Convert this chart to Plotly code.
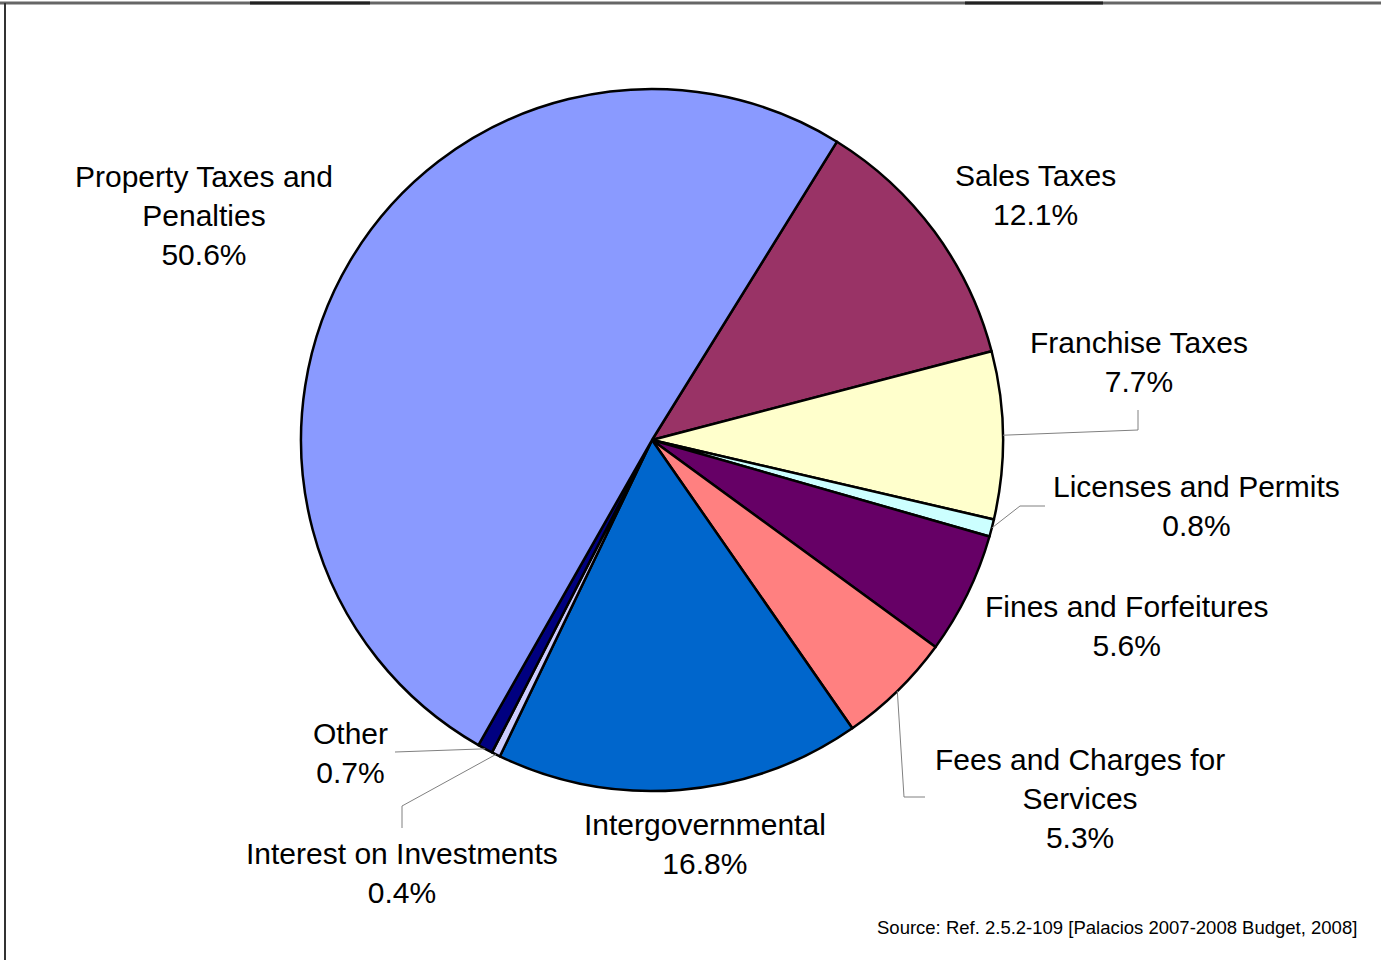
import math

import plotly.graph_objects as go

# Revenue categories, clockwise from the Sales Taxes slice
categories = [
    "Sales Taxes",
    "Franchise Taxes",
    "Licenses and Permits",
    "Fines and Forfeitures",
    "Fees and Charges for Services",
    "Intergovernmental",
    "Interest on Investments",
    "Other",
    "Property Taxes and Penalties",
]
shares = [12.1, 7.7, 0.8, 5.6, 5.3, 16.8, 0.4, 0.7, 50.6]
label_text = [
    "Sales Taxes<br>12.1%",
    "Franchise Taxes<br>7.7%",
    "Licenses and Permits<br>0.8%",
    "Fines and Forfeitures<br>5.6%",
    "Fees and Charges for<br>Services<br>5.3%",
    "Intergovernmental<br>16.8%",
    "Interest on Investments<br>0.4%",
    "Other<br>0.7%",
    "Property Taxes and<br>Penalties<br>50.6%",
]
colors = ["#993366", "#FFFFCC", "#CCFFFF", "#660066", "#FF8080",
          "#0066CC", "#CCCCFF", "#000080", "#8A9AFF"]

W, H = 1381, 960
CX, CY, R = 652, 440, 351
ROTATION = 31.8
FONT = "Liberation Sans, Arial, sans-serif"

# label centres (pixels)
label_pos = {
    "Sales Taxes": (1035, 195),
    "Franchise Taxes": (1139, 362),
    "Licenses and Permits": (1196, 506),
    "Fines and Forfeitures": (1126, 626),
    "Fees and Charges for Services": (1080, 798),
    "Intergovernmental": (705, 844),
    "Interest on Investments": (402, 873),
    "Other": (350, 753),
    "Property Taxes and Penalties": (204, 215),
}
# leader line start points (pixels), ending at the slice's mid angle on the rim
leader_start = {
    "Franchise Taxes": [(1138, 410), (1138, 430)],
    "Licenses and Permits": [(1045, 506), (1020, 506)],
    "Fees and Charges for Services": [(925, 797), (904, 797)],
    "Other": [(395, 752)],
    "Interest on Investments": [(402, 828), (402, 806)],
}


def px(x):
    return x / W


def py(y):
    return 1 - y / H


fig = go.Figure(
    go.Pie(
        labels=categories,
        values=shares,
        sort=False,
        direction="clockwise",
        rotation=ROTATION,
        marker=dict(colors=colors, line=dict(color="black", width=2.5)),
        textinfo="none",
        hoverinfo="label+percent",
        showlegend=False,
        domain=dict(x=[px(CX - R), px(CX + R)], y=[py(CY + R), py(CY - R)]),
    )
)

total = sum(shares)
cum = 0.0
mid_angle = {}
for name, v in zip(categories, shares):
    mid_angle[name] = ROTATION + (cum + v / 2) / total * 360
    cum += v

shapes = []
for name, pts in leader_start.items():
    a = math.radians(mid_angle[name])
    rim = (CX + R * math.sin(a), CY - R * math.cos(a))
    path = pts + [rim]
    for (x0, y0), (x1, y1) in zip(path[:-1], path[1:]):
        shapes.append(dict(type="line", xref="paper", yref="paper",
                           x0=px(x0), y0=py(y0), x1=px(x1), y1=py(y1),
                           line=dict(color="#808080", width=1)))

# frame edges
shapes.append(dict(type="line", xref="paper", yref="paper", x0=0, x1=1, y0=py(3), y1=py(3),
                   line=dict(color="#666666", width=3)))
for a, b in [(250, 370), (965, 1103)]:
    shapes.append(dict(type="line", xref="paper", yref="paper", x0=px(a), x1=px(b),
                       y0=py(3), y1=py(3), line=dict(color="#222222", width=3)))
shapes.append(dict(type="line", xref="paper", yref="paper", x0=px(5), x1=px(5), y0=0, y1=py(3),
                   line=dict(color="#333333", width=2)))

annotations = []
for name, txt in zip(categories, label_text):
    x, y = label_pos[name]
    annotations.append(dict(text=txt, x=px(x), y=py(y), xref="paper", yref="paper",
                            xanchor="center", yanchor="middle", showarrow=False,
                            align="center", font=dict(family=FONT, size=30, color="black")))
annotations.append(dict(text="Source: Ref. 2.5.2-109 [Palacios 2007-2008 Budget, 2008]",
                        x=px(1359), y=py(927), xref="paper", yref="paper",
                        xanchor="right", yanchor="middle", showarrow=False,
                        font=dict(family=FONT, size=18.5, color="black")))

fig.update_layout(
    width=W,
    height=H,
    margin=dict(l=0, r=0, t=0, b=0),
    paper_bgcolor="white",
    plot_bgcolor="white",
    shapes=shapes,
    annotations=annotations,
)

fig.write_html("out.html", config={"displayModeBar": False},
               post_script="document.body.style.margin='0';")
